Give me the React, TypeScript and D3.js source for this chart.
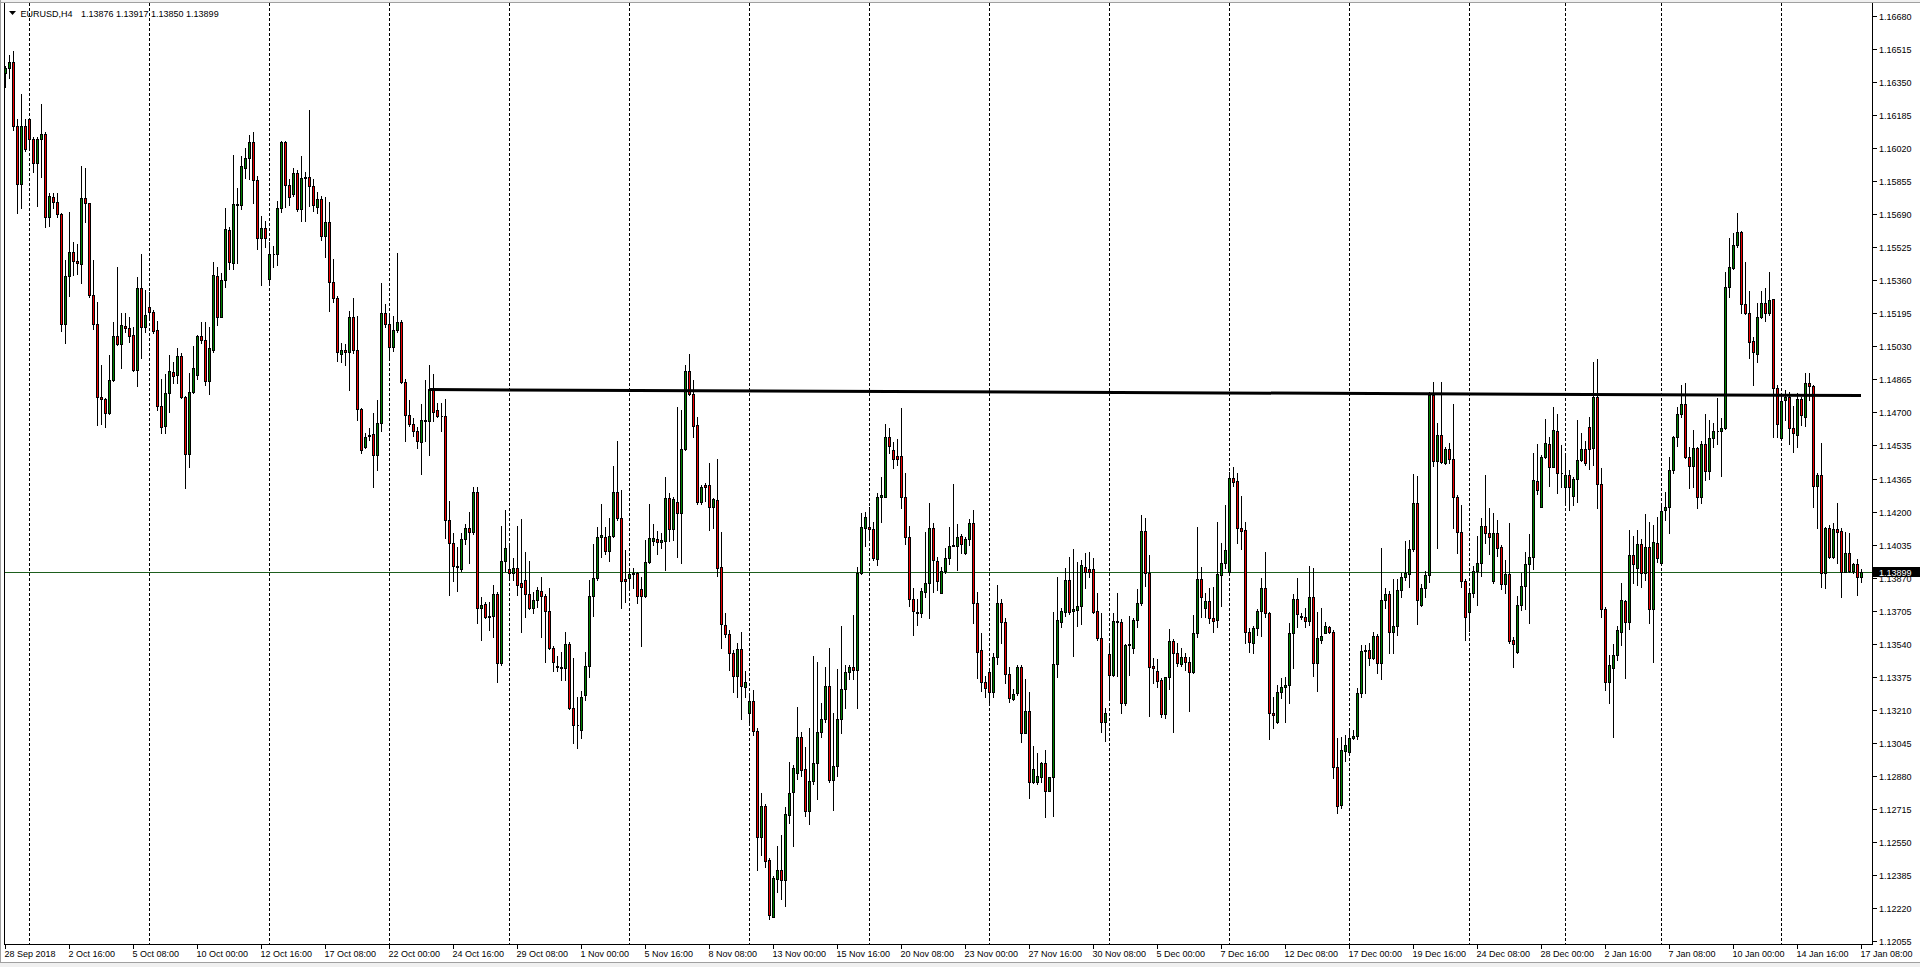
import * as d3 from "d3";
import React, { useEffect, useRef } from "react";

// EURUSD H4, bars from 28 Sep 2018 00:00 to 17 Jan 2019 08:00
// prices are stored as points above 1.10000 (6418 -> 1.16418)
const BASE = 1.1;

const opens = [
  6393, 6418, 6448, 6132, 5838, 6130, 6163, 6063, 5943, 6063,
  6088, 5677, 5777, 5748, 5690, 5138, 5380, 5500, 5457, 5440,
  5768, 5743, 5285, 5140, 4777, 4763, 4693, 4860, 5080, 5038,
  5130, 5122, 5085, 4910, 5318, 5127, 5223, 5200, 5108, 4732,
  4632, 4793, 4900, 4885, 4980, 4773, 4488, 4798, 4885, 5080,
  5060, 4857, 5010, 5380, 5177, 5360, 5610, 5447, 5740, 5737,
  5922, 5969, 6048, 5860, 5568, 5621, 5363, 5489, 5489, 5719,
  6049, 5837, 5790, 5893, 5715, 5869, 5875, 5828, 5724, 5766,
  5579, 5649, 5348, 5269, 4991, 5010, 5000, 5173, 5010, 4715,
  4527, 4585, 4591, 4483, 4647, 5194, 5138, 5023, 5109, 5151,
  4850, 4685, 4640, 4606, 4549, 4662, 4653, 4816, 4709, 4681,
  4681, 4160, 4045, 3929, 3914, 4064, 4121, 4098, 4301, 3718,
  3740, 3677, 3682, 3788, 3443, 3955, 3915, 3893, 3918, 3845,
  3860, 3788, 3718, 3760, 3807, 3780, 3707, 3522, 3432, 3427,
  3418, 3538, 3222, 3135, 3110, 3285, 3432, 3782, 3872, 4073,
  4073, 4007, 4080, 4298, 4168, 3863, 3868, 3897, 3897, 3813,
  3780, 3948, 4055, 4065, 4052, 4057, 4268, 4113, 4252, 4193,
  4513, 4907, 4790, 4635, 4248, 4335, 4335, 4227, 4260, 3927,
  3635, 3588, 3493, 3380, 3513, 3327, 3193, 3257, 3105, 2577,
  2732, 2460, 2177, 2365, 2410, 2360, 2685, 2802, 2897, 3077,
  2913, 2707, 2855, 2943, 3102, 3163, 3332, 2860, 2932, 3163,
  3313, 3402, 3427, 3410, 3893, 4118, 4127, 4115, 3965, 4277,
  4277, 4573, 4510, 4482, 4482, 4277, 4073, 3763, 3702, 3697,
  3802, 3843, 4122, 3957, 3797, 3907, 3972, 4032, 4032, 4080,
  3993, 4063, 4147, 3743, 3510, 3348, 3402, 3302, 3473, 3743,
  3648, 3388, 3263, 3293, 3427, 3097, 3205, 2852, 2852, 2877,
  2943, 2807, 2877, 3438, 3652, 3702, 3860, 3705, 3710, 3730,
  3923, 3915, 3913, 3707, 3568, 3148, 3488, 3385, 3657, 3652,
  3243, 3535, 3518, 3660, 3743, 4107, 3893, 3430, 3407, 3360,
  3190, 3373, 3555, 3497, 3440, 3473, 3452, 3402, 3593, 3863,
  3722, 3755, 3672, 3660, 3885, 3943, 3898, 4368, 4355, 4122,
  4110, 3598, 3543, 3622, 3705, 3818, 3693, 3193, 3148, 3302,
  3323, 3335, 3593, 3765, 3680, 3677, 3657, 3773, 3443, 3560,
  3597, 3627, 3602, 2927, 2735, 3007, 3002, 3068, 3080, 3293,
  3505, 3508, 3472, 3582, 3447, 3760, 3788, 3598, 3630, 3810,
  3873, 3888, 4013, 4247, 3735, 3818, 3885, 4785, 4457, 4585,
  4443, 4513, 4463, 4277, 4102, 3855, 3698, 3797, 3907, 3947,
  4132, 4093, 3855, 4093, 4023, 3838, 3890, 3560, 3502, 3735,
  3830, 3938, 3973, 4355, 4227, 4473, 4540, 4423, 4605, 4397,
  4323, 4385, 4282, 4365, 4460, 4515, 4623, 4518, 4777, 4338,
  3713, 3352, 3418, 3485, 3602, 3757, 3652, 3985, 3918, 4038,
  3897, 4027, 3713, 4047, 3943, 4210, 4227, 4410, 4573, 4690,
  4740, 4477, 4432, 4518, 4273, 4538, 4407, 4568, 4605, 4607,
  4618, 5323, 5418, 5535, 5598, 5238, 5197, 5057, 4988, 5173,
  5247, 5193, 5263, 4818, 4572, 4760, 4777, 4618, 4585, 4763,
  4677, 4843, 4830, 4332, 4385, 3893, 4118, 3977, 4113, 4107,
  3902, 3993, 3907, 3938, 3876,
];

const highs = [
  6430, 6485, 6505, 6163, 6290, 6163, 6168, 6077, 6073, 6240,
  6102, 5797, 5797, 5793, 5693, 5460, 5698, 5550, 5540, 5930,
  5922, 5747, 5460, 5250, 4935, 4772, 4985, 5152, 5423, 5193,
  5197, 5177, 5127, 5373, 5490, 5310, 5298, 5210, 5155, 4863,
  4890, 4985, 4952, 5018, 4993, 4780, 4897, 5030, 5085, 5148,
  5152, 5127, 5452, 5423, 5393, 5718, 5627, 5985, 5818, 5978,
  6019, 6085, 6100, 5878, 5681, 5653, 5549, 5531, 5756, 6057,
  6053, 5865, 5918, 5912, 5978, 5899, 6209, 5865, 5799, 5781,
  5775, 5752, 5465, 5279, 5047, 5038, 5207, 5269, 5179, 4718,
  4596, 4619, 4696, 4762, 5344, 5239, 5179, 5179, 5493, 5160,
  4865, 4762, 4671, 4624, 4741, 4859, 4935, 4891, 4747, 4747,
  4765, 4254, 4094, 4027, 4094, 4139, 4201, 4324, 4324, 3777,
  3752, 3748, 3835, 3802, 4132, 4210, 4040, 3968, 4130, 4165,
  4002, 3955, 3802, 3823, 3877, 3790, 3822, 3532, 3480, 3498,
  3598, 3548, 3468, 3277, 3305, 3498, 3860, 4038, 4127, 4240,
  4127, 4172, 4430, 4555, 4310, 4010, 3918, 3918, 3902, 3877,
  4060, 4240, 4140, 4105, 4093, 4377, 4293, 4277, 4727, 4710,
  4935, 4990, 4860, 4677, 4335, 4343, 4447, 4272, 4463, 4102,
  3693, 3610, 3510, 3543, 3598, 3407, 3293, 3310, 3122, 2793,
  2740, 2468, 2380, 2530, 2585, 2723, 2948, 2935, 3223, 3098,
  3023, 3118, 3480, 3452, 3247, 3427, 3522, 3193, 3413, 3630,
  3435, 3435, 3685, 3927, 4197, 4202, 4223, 4152, 4293, 4377,
  4640, 4618, 4552, 4563, 4718, 4393, 4130, 3818, 3763, 3818,
  4102, 4247, 4147, 3973, 3923, 4018, 4127, 4340, 4140, 4090,
  4077, 4163, 4210, 3802, 3597, 3380, 3418, 3497, 3835, 3765,
  3668, 3427, 3313, 3435, 3435, 3363, 3302, 3030, 2993, 2952,
  3010, 2877, 3702, 3877, 3722, 3922, 3973, 4013, 3952, 3960,
  3993, 3998, 3968, 3797, 3693, 3218, 3535, 3693, 3793, 3663,
  3540, 3680, 3668, 3813, 4185, 4168, 3985, 3468, 3463, 3368,
  3377, 3613, 3563, 3543, 3518, 3497, 3477, 3685, 4127, 3923,
  3793, 3818, 3827, 4148, 4043, 4235, 4402, 4423, 4393, 4280,
  4148, 3618, 3632, 3715, 3868, 4000, 3702, 3277, 3335, 3372,
  3373, 3643, 3788, 3868, 3693, 3718, 3930, 3922, 3702, 3718,
  3648, 3630, 3610, 3068, 3077, 3085, 3110, 3110, 3318, 3535,
  3535, 3543, 3602, 3590, 4018, 3818, 3805, 3863, 3863, 3897,
  4057, 4060, 4390, 4380, 3840, 3907, 4802, 4852, 4643, 4852,
  4527, 4543, 4740, 4285, 4235, 3863, 3813, 3930, 4080, 4168,
  4385, 4218, 4193, 4160, 4035, 3960, 4143, 3577, 3780, 3897,
  4002, 4090, 4497, 4540, 4485, 4663, 4577, 4723, 4690, 4535,
  4497, 4410, 4377, 4660, 4593, 4555, 4677, 4952, 4963, 4418,
  3727, 3485, 3538, 3630, 3843, 3760, 4110, 4080, 4110, 4063,
  4190, 4152, 4135, 4177, 4235, 4302, 4477, 4580, 4727, 4835,
  4843, 4527, 4610, 4527, 4555, 4690, 4660, 4643, 4768, 4668,
  5402, 5572, 5597, 5697, 5605, 5452, 5307, 5073, 5247, 5305,
  5318, 5402, 5265, 4835, 4793, 4810, 4802, 4730, 4797, 4777,
  4893, 4893, 4835, 4393, 4547, 4127, 4135, 4147, 4247, 4118,
  4102, 4093, 3943, 3963, 3917,
];

const lows = [
  6327, 6368, 6110, 5693, 5718, 6005, 6010, 5902, 5732, 5877,
  5627, 5630, 5718, 5677, 5107, 5047, 5282, 5385, 5390, 5347,
  5652, 5273, 5115, 4635, 4640, 4627, 4690, 4857, 5037, 4918,
  5102, 5052, 4905, 4832, 4972, 5102, 5177, 5097, 4710, 4593,
  4593, 4702, 4843, 4847, 4768, 4318, 4423, 4797, 4863, 5043,
  4835, 4790, 5002, 5135, 5173, 5327, 5417, 5417, 5443, 5715,
  5869, 5865, 5747, 5517, 5333, 5523, 5352, 5423, 5437, 5700,
  5724, 5737, 5781, 5705, 5653, 5653, 5730, 5705, 5696, 5561,
  5474, 5207, 5249, 4953, 4948, 4935, 4812, 4995, 4658, 4493,
  4521, 4559, 4327, 4408, 4606, 5123, 4963, 5004, 5098, 4846,
  4553, 4628, 4581, 4521, 4389, 4553, 4483, 4653, 4675, 4606,
  4070, 3784, 3857, 3807, 3906, 4042, 3944, 4092, 3647, 3560,
  3668, 3610, 3577, 3352, 3435, 3907, 3877, 3860, 3785, 3602,
  3677, 3713, 3693, 3727, 3573, 3452, 3515, 3405, 3405, 3360,
  3360, 3213, 3047, 3018, 3068, 3260, 3373, 3682, 3860, 3973,
  3990, 3955, 4073, 4160, 3718, 3752, 3813, 3818, 3743, 3530,
  3777, 3943, 4035, 3990, 4018, 3910, 4057, 4060, 3977, 3943,
  4510, 4785, 4573, 4240, 4240, 4257, 4110, 4118, 3880, 3518,
  3573, 3410, 3302, 3277, 3165, 3277, 3135, 3085, 2410, 2485,
  2427, 2165, 2173, 2302, 2265, 2230, 2647, 2532, 2863, 2882,
  2680, 2640, 2838, 2763, 3077, 3152, 2852, 2710, 2882, 3093,
  3218, 3363, 3363, 3218, 3890, 4030, 4077, 3960, 3935, 4152,
  4277, 4493, 4422, 4435, 4218, 4040, 3732, 3585, 3635, 3677,
  3773, 3668, 3802, 3810, 3793, 3897, 3940, 4030, 3910, 3997,
  3990, 4035, 3647, 3372, 3307, 3273, 3247, 3277, 3440, 3543,
  3343, 3248, 3260, 3285, 3052, 3093, 2772, 2843, 2840, 2852,
  2673, 2805, 2680, 3377, 3627, 3680, 3690, 3482, 3630, 3640,
  3818, 3873, 3693, 3560, 3102, 3055, 3277, 3380, 3380, 3193,
  3235, 3385, 3493, 3623, 3735, 3830, 3180, 3347, 3327, 3177,
  3168, 3313, 3102, 3430, 3430, 3410, 3207, 3393, 3577, 3673,
  3677, 3647, 3598, 3627, 3732, 3918, 3897, 4330, 4047, 4013,
  3543, 3502, 3497, 3585, 3580, 3673, 3063, 3118, 3147, 3268,
  3148, 3247, 3418, 3627, 3663, 3627, 3635, 3382, 3307, 3543,
  3593, 3597, 2868, 2697, 2718, 2955, 2997, 3063, 3063, 3273,
  3297, 3435, 3463, 3397, 3363, 3722, 3497, 3497, 3585, 3777,
  3860, 3823, 4007, 3640, 3732, 3777, 3852, 4430, 4018, 4443,
  4438, 4443, 4118, 3997, 3823, 3560, 3605, 3777, 3735, 3880,
  4043, 3988, 3843, 3980, 3813, 3793, 3543, 3427, 3493, 3710,
  3713, 3643, 3915, 4288, 4223, 4468, 4330, 4423, 4297, 4327,
  4235, 4210, 4235, 4252, 4455, 4435, 4413, 4435, 4218, 3677,
  3310, 3247, 3077, 3460, 3535, 3372, 3613, 3843, 3835, 3827,
  3860, 3643, 3452, 3952, 3943, 4160, 4097, 4393, 4530, 4673,
  4468, 4318, 4327, 4218, 4243, 4360, 4363, 4523, 4538, 4380,
  4613, 5277, 5413, 5527, 5193, 5190, 4968, 4835, 4952, 5168,
  5157, 5185, 4577, 4573, 4568, 4660, 4540, 4502, 4527, 4635,
  4630, 4760, 4227, 4118, 3827, 3818, 3968, 3968, 3943, 3777,
  3898, 3902, 3893, 3785, 3850,
];

const closes = [
  6418, 6448, 6132, 5838, 6130, 6015, 6063, 5943, 6063, 6088,
  5677, 5780, 5748, 5688, 5138, 5380, 5500, 5457, 5443, 5768,
  5743, 5285, 5140, 4777, 4763, 4693, 4860, 5080, 5038, 5133,
  5122, 5082, 4910, 5318, 5127, 5183, 5200, 5105, 4732, 4627,
  4793, 4907, 4882, 4980, 4773, 4488, 4798, 4918, 5080, 5060,
  4857, 5018, 5383, 5177, 5360, 5613, 5452, 5740, 5733, 5931,
  5969, 6048, 5860, 5568, 5621, 5568, 5489, 5489, 5719, 6049,
  5837, 5777, 5893, 5715, 5869, 5875, 5828, 5734, 5766, 5579,
  5649, 5348, 5269, 5000, 5010, 5000, 5173, 5010, 4715, 4508,
  4574, 4578, 4483, 4647, 5194, 5138, 5023, 5109, 5151, 4850,
  4685, 4640, 4606, 4553, 4662, 4653, 4816, 4700, 4681, 4681,
  4160, 4045, 3929, 3923, 4064, 4121, 4098, 4301, 3722, 3735,
  3677, 3682, 3788, 3443, 3955, 4018, 3893, 3918, 3835, 3827,
  3788, 3722, 3760, 3810, 3780, 3707, 3522, 3448, 3427, 3422,
  3538, 3222, 3135, 3135, 3277, 3432, 3782, 3872, 4073, 4085,
  4007, 4080, 4298, 4168, 3855, 3855, 3890, 3888, 3780, 3780,
  3948, 4072, 4068, 4048, 4060, 4268, 4113, 4263, 4193, 4513,
  4907, 4790, 4632, 4252, 4323, 4323, 4227, 4263, 3922, 3638,
  3588, 3493, 3380, 3513, 3330, 3348, 3257, 3105, 2577, 2732,
  2457, 2185, 2368, 2410, 2360, 2690, 2797, 2918, 3077, 2910,
  2707, 2855, 2943, 3102, 3163, 3332, 2860, 2932, 3163, 3313,
  3402, 3427, 3410, 3893, 4123, 4173, 4115, 3972, 4277, 4285,
  4573, 4530, 4463, 4463, 4273, 4073, 3763, 3707, 3693, 3805,
  3843, 4122, 3960, 3855, 3907, 3972, 4032, 4035, 4073, 4038,
  4063, 4147, 3743, 3502, 3348, 3318, 3302, 3477, 3743, 3648,
  3388, 3272, 3288, 3427, 3097, 3205, 2852, 2913, 2880, 2943,
  2807, 2873, 3438, 3660, 3705, 3860, 3702, 3713, 3730, 3935,
  3902, 3902, 3702, 3568, 3148, 3193, 3385, 3657, 3652, 3243,
  3535, 3540, 3660, 3743, 4107, 3893, 3427, 3418, 3357, 3190,
  3373, 3555, 3497, 3443, 3473, 3452, 3402, 3593, 3863, 3773,
  3757, 3668, 3657, 3890, 3943, 4010, 4368, 4352, 4118, 4107,
  3598, 3548, 3622, 3705, 3818, 3693, 3193, 3185, 3302, 3323,
  3335, 3593, 3765, 3688, 3673, 3657, 3773, 3443, 3568, 3580,
  3632, 3602, 2927, 2732, 3010, 3035, 3068, 3080, 3293, 3505,
  3508, 3472, 3582, 3447, 3760, 3788, 3598, 3630, 3810, 3873,
  3893, 4013, 4247, 3760, 3818, 3885, 4785, 4457, 4585, 4452,
  4513, 4463, 4277, 4102, 3855, 3673, 3797, 3907, 3947, 4132,
  4093, 4073, 4093, 4018, 3838, 3890, 3555, 3540, 3735, 3830,
  3938, 3973, 4360, 4310, 4473, 4543, 4423, 4610, 4397, 4397,
  4385, 4327, 4365, 4460, 4515, 4443, 4515, 4777, 4338, 3713,
  3352, 3435, 3485, 3610, 3760, 3652, 3985, 3938, 4038, 3897,
  4027, 3713, 4052, 3968, 4207, 4227, 4410, 4573, 4690, 4740,
  4477, 4432, 4518, 4273, 4538, 4407, 4568, 4605, 4607, 4618,
  5323, 5423, 5535, 5598, 5238, 5197, 5052, 4998, 5173, 5247,
  5193, 5260, 4822, 4638, 4757, 4777, 4618, 4593, 4763, 4685,
  4843, 4830, 4332, 4385, 3893, 4118, 3977, 4113, 4102, 3902,
  3993, 3907, 3938, 3873, 3899,
];

// right price scale labels
const priceTicks = [
  1.1668, 1.16515, 1.1635, 1.16185, 1.1602, 1.15855, 1.1569, 1.15525, 1.1536, 1.15195,
  1.1503, 1.14865, 1.147, 1.14535, 1.14365, 1.142, 1.14035, 1.1387, 1.13705, 1.1354,
  1.13375, 1.1321, 1.13045, 1.1288, 1.12715, 1.1255, 1.12385, 1.1222, 1.12055,
];

// time scale labels, one every 16 bars starting at the first bar
const timeLabels = [
  "28 Sep 2018", "2 Oct 16:00", "5 Oct 08:00", "10 Oct 00:00", "12 Oct 16:00",
  "17 Oct 08:00", "22 Oct 00:00", "24 Oct 16:00", "29 Oct 08:00", "1 Nov 00:00",
  "5 Nov 16:00", "8 Nov 08:00", "13 Nov 00:00", "15 Nov 16:00", "20 Nov 08:00",
  "23 Nov 00:00", "27 Nov 16:00", "30 Nov 08:00", "5 Dec 00:00", "7 Dec 16:00",
  "12 Dec 08:00", "17 Dec 00:00", "19 Dec 16:00", "24 Dec 08:00", "28 Dec 00:00",
  "2 Jan 16:00", "7 Jan 08:00", "10 Jan 00:00", "14 Jan 16:00", "17 Jan 08:00",
];
const labelEvery = 16;

// bar index of every Monday 00:00 (weekly period separators)
const weekStarts = [6, 36, 66, 96, 126, 156, 186, 216, 246, 276, 306, 336, 366, 390, 414, 444];

// horizontal resistance line drawn on the chart: [bar index, price]
const trendLine = [
  [106, 1.14812],
  [464, 1.14782],
];

const symbol = "EURUSD,H4";
const lastBar = ["1.13876", "1.13917", "1.13850", "1.13899"];
const bid = 1.13899;

const App = () => {
  const chartArea = useRef<SVGSVGElement>(null);
  const width = 1920,
    height = 967;
  const plot = { left: 4, right: 1872, bottom: 944 };
  const colors = { up: "#008000", down: "#ee0000", bid: "#1d5e1d", frame: "#a0a0a0" };
  const font = "'Liberation Sans', Arial, sans-serif";

  useEffect(() => {
    createChart();
  }, []);

  const createChart = () => {
    const svg = d3.select(chartArea.current);
    svg.selectAll("*").remove();
    svg
      .attr("width", width)
      .attr("height", height)
      .attr("font-family", font)
      .attr("font-size", "9px");

    const n = Math.min(opens.length, highs.length, lows.length, closes.length);
    const bars = d3.range(n).map((i) => ({
      i,
      o: BASE + opens[i] / 100000,
      h: BASE + highs[i] / 100000,
      l: BASE + lows[i] / 100000,
      c: BASE + closes[i] / 100000,
    }));

    // 4px per bar, first bar at x=5
    const x = d3.scaleLinear().domain([0, 464]).range([5, 1861]);
    const y = d3.scaleLinear().domain([1.1204, 1.1676]).range([plot.bottom, 0]);
    const px = (i: number) => Math.round(x(i));
    const py = (p: number) => Math.round(y(p));

    svg.append("rect").attr("width", width).attr("height", height).attr("fill", "#fff");

    // window frame
    const frame = svg.append("g").attr("shape-rendering", "crispEdges");
    frame.append("rect").attr("x", 0).attr("y", 0).attr("width", width).attr("height", 2).attr("fill", "#f0f0f0");
    frame.append("line").attr("x1", 0).attr("x2", width).attr("y1", 2.5).attr("y2", 2.5).attr("stroke", colors.frame);
    frame.append("line").attr("x1", 0.5).attr("x2", 0.5).attr("y1", 0).attr("y2", height).attr("stroke", colors.frame);
    frame.append("rect").attr("x", 0).attr("y", 962).attr("width", width).attr("height", 5).attr("fill", "#f0f0f0");
    frame.append("line").attr("x1", 0).attr("x2", width).attr("y1", 962.5).attr("y2", 962.5).attr("stroke", colors.frame);

    // weekly separators
    svg
      .append("g")
      .attr("shape-rendering", "crispEdges")
      .selectAll("line")
      .data(weekStarts)
      .join("line")
      .attr("x1", (d) => px(d) + 0.5)
      .attr("x2", (d) => px(d) + 0.5)
      .attr("y1", 3)
      .attr("y2", plot.bottom)
      .attr("stroke", "#000")
      .attr("stroke-dasharray", "3,2");

    // bid line
    const bidY = py(bid) + 0.5;
    svg
      .append("line")
      .attr("shape-rendering", "crispEdges")
      .attr("x1", plot.left)
      .attr("x2", plot.right)
      .attr("y1", bidY)
      .attr("y2", bidY)
      .attr("stroke", colors.bid);

    // candles
    const candles = svg.append("g").attr("shape-rendering", "crispEdges");
    candles
      .selectAll("line")
      .data(bars)
      .join("line")
      .attr("x1", (d) => px(d.i) + 0.5)
      .attr("x2", (d) => px(d.i) + 0.5)
      .attr("y1", (d) => py(d.h))
      .attr("y2", (d) => py(d.l) + 1)
      .attr("stroke", "#000");
    candles
      .selectAll("path")
      .data(bars)
      .join("path")
      .attr("d", (d) => {
        const t = py(Math.max(d.o, d.c));
        const b = py(Math.min(d.o, d.c));
        const cx = px(d.i);
        return `M${cx - 0.5},${t + 0.5}h2v${b - t}h-2Z`;
      })
      .attr("fill", (d) => (d.c >= d.o ? colors.up : colors.down))
      .attr("stroke", "#000");

    // resistance line
    svg
      .append("line")
      .attr("x1", x(trendLine[0][0]))
      .attr("y1", y(trendLine[0][1]))
      .attr("x2", x(trendLine[1][0]))
      .attr("y2", y(trendLine[1][1]))
      .attr("stroke", "#000")
      .attr("stroke-width", 3);

    // axes frame
    const axes = svg.append("g").attr("shape-rendering", "crispEdges").attr("stroke", "#000");
    axes.append("line").attr("x1", plot.left + 0.5).attr("x2", plot.left + 0.5).attr("y1", 3).attr("y2", plot.bottom + 1);
    axes.append("line").attr("x1", plot.right + 0.5).attr("x2", plot.right + 0.5).attr("y1", 3).attr("y2", plot.bottom + 1);
    axes.append("line").attr("x1", plot.left).attr("x2", plot.right + 1).attr("y1", plot.bottom + 0.5).attr("y2", plot.bottom + 0.5);

    // price scale
    const pAxis = svg.append("g");
    pAxis
      .selectAll("line")
      .data(priceTicks)
      .join("line")
      .attr("shape-rendering", "crispEdges")
      .attr("x1", plot.right + 1)
      .attr("x2", plot.right + 5)
      .attr("y1", (d) => py(d) + 0.5)
      .attr("y2", (d) => py(d) + 0.5)
      .attr("stroke", "#000");
    pAxis
      .selectAll("text")
      .data(priceTicks)
      .join("text")
      .attr("x", plot.right + 7)
      .attr("y", (d) => py(d) + 3.5)
      .attr("fill", "#000")
      .text((d) => d.toFixed(5));

    // current price box
    const bidPix = py(bid);
    svg.append("rect").attr("x", plot.right + 1).attr("y", bidPix - 5).attr("width", width - plot.right - 1).attr("height", 10).attr("fill", "#000");
    svg.append("text").attr("x", plot.right + 7).attr("y", bidPix + 3.5).attr("fill", "#fff").text(bid.toFixed(5));

    // time scale
    const tAxis = svg.append("g");
    tAxis
      .selectAll("line")
      .data(timeLabels)
      .join("line")
      .attr("shape-rendering", "crispEdges")
      .attr("x1", (_d, k) => px(k * labelEvery) + 0.5)
      .attr("x2", (_d, k) => px(k * labelEvery) + 0.5)
      .attr("y1", plot.bottom + 1)
      .attr("y2", plot.bottom + 5)
      .attr("stroke", "#000");
    tAxis
      .selectAll("text")
      .data(timeLabels)
      .join("text")
      .attr("x", (_d, k) => px(k * labelEvery) - 0.5)
      .attr("y", 957)
      .attr("fill", "#000")
      .text((d) => d);

    // header
    svg.append("path").attr("d", "M9,11h7l-3.5,4Z").attr("fill", "#000");
    svg.append("text").attr("x", 20.5).attr("y", 16.5).attr("fill", "#000").text(symbol);
    svg.append("text").attr("x", 81).attr("y", 16.5).attr("fill", "#000").text(lastBar.join(" "));
  };

  return (
    <>
      <style>{"html,body{margin:0;padding:0;overflow:hidden;background:#fff}"}</style>
      <svg ref={chartArea} style={{ display: "block" }} />
    </>
  );
};

export default App;
